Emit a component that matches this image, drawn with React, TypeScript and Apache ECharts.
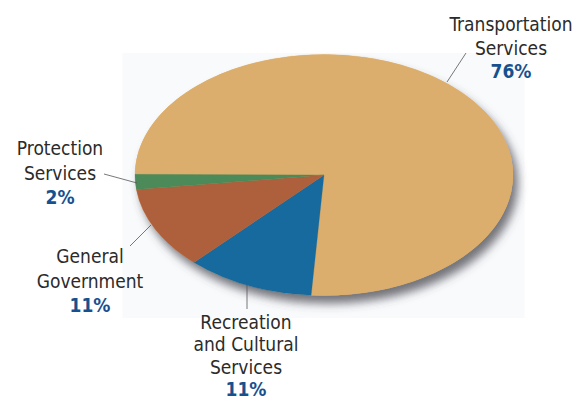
import React, { useEffect, useRef } from "react";
import * as echarts from "echarts";

// ---- data ----
const categories: string[] = [
  "Transportation\nServices",
  "Recreation\nand Cultural\nServices",
  "General\nGovernment",
  "Protection\nServices",
];
const values: number[] = [76, 11, 11, 2];
const sliceColors: string[] = ["#DCAE6D", "#176A9E", "#AE603D", "#4C8A5A"];

// ---- layout (positions only) ----
const CX = 324;
const CY = 175;
const RX = 189;
const RY = 120.5;
const START_DEG = 180.3; // screen angle where first slice starts (clockwise)

const labelLayout = [
  { x: 511, y: 24, lh: 23.5, line: [447, 82, 466, 53] },
  { x: 246, y: 321.5, lh: 22.6, line: [247, 285, 247, 309] },
  { x: 90, y: 256, lh: 24.5, line: [130, 246, 151, 225] },
  { x: 60, y: 148, lh: 24.5, line: [104, 174, 137, 183] },
];

const FONT = "'DejaVu Sans Condensed', 'Liberation Sans Narrow', 'Roboto Condensed', 'DejaVu Sans', sans-serif";

export default function App() {
  const ref = useRef<HTMLDivElement>(null);
  useEffect(() => {
    if (!ref.current) return;
    const chart = echarts.init(ref.current, undefined, { renderer: "svg" });
    const total = values.reduce((a, b) => a + b, 0);

    const graphics: any[] = [
      {
        type: "rect",
        z: 0,
        shape: { x: 122.5, y: 53, width: 402, height: 265 },
        style: { fill: "#F9FAFC" },
        silent: true,
      },
      {
        type: "ellipse",
        z: 1,
        shape: { cx: CX, cy: CY, rx: RX, ry: RY },
        style: {
          fill: "#DCAE6D",
          shadowBlur: 10,
          shadowOffsetX: 5,
          shadowOffsetY: 8,
          shadowColor: "rgba(70,70,80,0.75)",
        },
        silent: true,
      },
    ];

    categories.forEach((name, i) => {
      const L = labelLayout[i];
      const lines = name.split("\n");
      lines.forEach((ln, k) => {
        graphics.push({
          type: "text",
          z: 10,
          style: {
            text: ln,
            x: L.x,
            y: L.y + k * L.lh,
            fill: "#2B2B2B",
            font: `19px ${FONT}`,
            align: "center",
            verticalAlign: "middle",
          },
        });
      });
      graphics.push({
        type: "text",
        z: 10,
        style: {
          text: `${values[i]}%`,
          x: L.x,
          y: L.y + lines.length * L.lh,
          fill: "#16518F",
          font: `bold 19px ${FONT}`,
          align: "center",
          verticalAlign: "middle",
        },
      });
      graphics.push({
        type: "line",
        z: 10,
        shape: { x1: L.line[0], y1: L.line[1], x2: L.line[2], y2: L.line[3] },
        style: { stroke: "#555", lineWidth: 0.8 },
      });
    });

    chart.setOption({
      animation: false,
      backgroundColor: "#ffffff",
      graphic: graphics,
      series: [
        {
          type: "custom",
          coordinateSystem: "none",
          z: 5,
          data: values.map((v, i) => ({ value: v, name: categories[i] })),
          renderItem: (params: any, api: any) => {
            const idx = params.dataIndex;
            let before = 0;
            for (let j = 0; j < idx; j++) before += values[j];
            const v = api.value(0);
            const start = (START_DEG * Math.PI) / 180 + (before / total) * Math.PI * 2;
            const end = start + (v / total) * Math.PI * 2;
            return {
              type: "sector",
              x: CX,
              y: CY,
              scaleY: RY / RX,
              shape: { cx: 0, cy: 0, r: RX, r0: 0, startAngle: start, endAngle: end, clockwise: true },
              style: { fill: sliceColors[idx], stroke: sliceColors[idx], lineWidth: 0.3 },
            };
          },
        },
      ],
    });
    return () => chart.dispose();
  }, []);
  return (
    <div
      ref={ref}
      style={{ position: "fixed", left: 0, top: 0, width: 578, height: 401 }}
    />
  );
}
